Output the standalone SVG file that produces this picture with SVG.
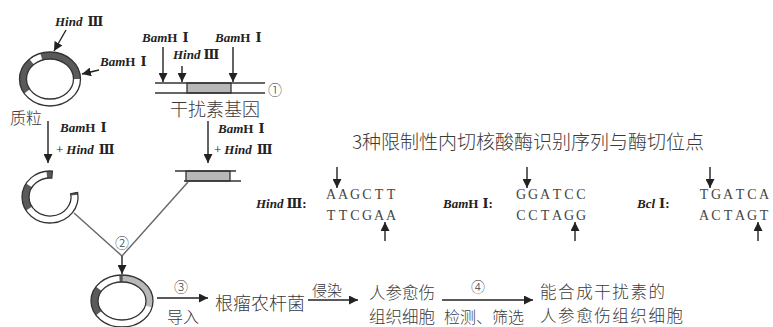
<svg xmlns="http://www.w3.org/2000/svg" width="773" height="327" viewBox="0 0 773 327">
  <defs>
    <marker id="ah" viewBox="0 0 10 10" refX="10" refY="5" markerWidth="9" markerHeight="9" markerUnits="userSpaceOnUse" orient="auto">
      <path d="M0,0 L10,5 L0,10 z" fill="#222"/>
    </marker>
    <style>
      .ol { fill: none; stroke: #333; stroke-width: 1.3; }
      .dk { fill: none; stroke: #5a5a5a; stroke-width: 7; }
      .lt { fill: none; stroke: #b8b8b8; stroke-width: 7; }
      .arr { stroke: #222; stroke-width: 1.4; fill: none; marker-end: url(#ah); }
      .vl { stroke: #666; stroke-width: 1.4; fill: none; }
      .zh { font-family: "Noto Sans CJK SC", "Noto Sans", sans-serif; font-weight: 300; fill: #3a3a3a; }
      .en { font-family: "Liberation Serif", "DejaVu Serif", serif; font-weight: bold; font-size: 13px; fill: #222; }
      .it { font-style: italic; }
      .pl { font-weight: normal; }
      .seq { font-family: "Liberation Serif", "DejaVu Serif", serif; font-size: 14px; fill: #444; text-anchor: middle; }
      .num { font-family: "Noto Sans CJK SC", "DejaVu Sans", sans-serif; font-weight: 300; font-size: 14px; fill: #444; text-anchor: middle; }
    </style>
  </defs>

  <rect width="773" height="327" fill="#fff"/>

  <!-- original plasmid -->
  <g id="plasmid">
    <ellipse class="dk" cx="50" cy="79" rx="27" ry="23.5" pathLength="360" stroke-dasharray="0 150 75 25 110"/>
    <ellipse class="ol" cx="50" cy="79" rx="30.5" ry="27"/>
    <ellipse class="ol" cx="50" cy="79" rx="23.5" ry="20"/>
    <text class="zh" x="10" y="124" font-size="16">质粒</text>
  </g>

  <!-- interferon gene on the donor DNA -->
  <g id="gene">
    <rect x="187" y="83" width="44" height="10" fill="#b8b8b8" stroke="#333" stroke-width="1.3"/>
    <line class="ol" x1="155" y1="83" x2="265" y2="83"/>
    <line class="ol" x1="155" y1="93" x2="265" y2="93"/>
    <text class="num" x="275" y="95">①</text>
    <text class="zh" x="215" y="116" font-size="18" text-anchor="middle">干扰素基因</text>
  </g>

  <!-- cut plasmid -->
  <g id="cut-plasmid">
    <ellipse class="dk" cx="50" cy="197" rx="24.5" ry="22.5" pathLength="360" stroke-dasharray="0 150 60 150"/>
    <ellipse class="dk" cx="50" cy="197" rx="24.5" ry="22.5" pathLength="360" stroke-dasharray="0 262 13 85"/>
    <ellipse class="dk" cx="50" cy="197" rx="24.5" ry="22.5" pathLength="360" stroke-dasharray="0 349 6 5"/>
    <path class="ol" d="M77.6 192.5 A28 26 0 1 1 52.4 171.1 L51.8 178.1 A21 19 0 1 0 70.7 193.7 Z"/>
  </g>

  <!-- cut gene fragment with sticky ends -->
  <g id="fragment">
    <rect x="186" y="171" width="44" height="10" fill="#b8b8b8" stroke="#333" stroke-width="1.3"/>
    <line class="ol" x1="175" y1="171" x2="236" y2="171"/>
    <line class="ol" x1="184" y1="181" x2="241" y2="181"/>
  </g>

  <!-- recombinant plasmid -->
  <g id="recombinant">
    <ellipse class="lt" cx="122" cy="301" rx="27.5" ry="22.5" pathLength="360" stroke-dasharray="13 259 88"/>
    <ellipse class="dk" cx="122" cy="301" rx="27.5" ry="22.5" pathLength="360" stroke-dasharray="0 150 60 150"/>
    <ellipse class="dk" cx="122" cy="301" rx="27.5" ry="22.5" pathLength="360" stroke-dasharray="0 264 8 88"/>
    <ellipse class="ol" cx="122" cy="301" rx="31" ry="26"/>
    <ellipse class="ol" cx="122" cy="301" rx="24" ry="19"/>
  </g>

  <g id="agrobacterium">
    <text class="zh" x="260" y="310" font-size="18" text-anchor="middle">根瘤农杆菌</text>
  </g>
  <g id="callus">
    <text class="zh" x="402" y="299" font-size="16.5" text-anchor="middle">人参愈伤</text>
    <text class="zh" x="402" y="323" font-size="16.5" text-anchor="middle">组织细胞</text>
  </g>
  <g id="result">
    <text class="zh" x="540" y="298" font-size="16.5" textLength="125">能合成干扰素的</text>
    <text class="zh" x="540" y="322" font-size="16.5" textLength="143">人参愈伤组织细胞</text>
  </g>

  <!-- enzyme recognition sequences -->
  <g id="enzyme-table">
    <text class="zh" x="528" y="149" font-size="19" text-anchor="middle">3种限制性内切核酸酶识别序列与酶切位点</text>

    <g id="hind3">
      <text class="en" x="256" y="208"><tspan class="it">Hind</tspan><tspan dx="3">Ⅲ:</tspan></text>
      <text class="seq" x="331 343 355 367 379 391" y="199">AAGCTT</text>
      <text class="seq" x="331 343 355 367 379 391" y="220">TTCGAA</text>
    </g>
    <g id="bamh1">
      <text class="en" x="443" y="208"><tspan class="it">Bam</tspan>H<tspan dx="4">Ⅰ:</tspan></text>
      <text class="seq" x="521 533 545 557 569 581" y="199">GGATCC</text>
      <text class="seq" x="521 533 545 557 569 581" y="220">CCTAGG</text>
    </g>
    <g id="bcl1">
      <text class="en" x="637" y="208"><tspan class="it">Bcl</tspan><tspan dx="4">Ⅰ:</tspan></text>
      <text class="seq" x="704 716 728 740 752 764" y="199">TGATCA</text>
      <text class="seq" x="704 716 728 740 752 764" y="220">ACTAGT</text>
    </g>
  </g>

  <!-- connectors -->
  <g id="connectors">
    <!-- cut sites on the plasmid -->
    <line class="arr" x1="66" y1="30" x2="54" y2="51"/>
    <line class="arr" x1="99" y1="70" x2="82" y2="74"/>
    <!-- cut sites on the donor DNA -->
    <line class="arr" x1="163" y1="47" x2="163" y2="82"/>
    <line class="arr" x1="182" y1="66" x2="182" y2="82"/>
    <line class="arr" x1="233" y1="47" x2="233" y2="82"/>
    <!-- digestion -->
    <line class="arr" x1="48" y1="121" x2="48" y2="163"/>
    <line class="arr" x1="208" y1="121" x2="208" y2="163"/>
    <!-- ligation -->
    <line class="vl" x1="74" y1="213" x2="122" y2="256"/>
    <line class="vl" x1="188" y1="182" x2="122" y2="256"/>
    <line class="arr" x1="122" y1="256" x2="122" y2="274"/>
    <!-- transfer steps -->
    <line class="arr" x1="157" y1="298" x2="208" y2="298"/>
    <line class="arr" x1="308" y1="300" x2="358" y2="300"/>
    <line class="arr" x1="442" y1="300" x2="533" y2="300"/>
    <!-- cut positions in the sequences -->
    <line class="arr" x1="337" y1="167" x2="337" y2="188"/>
    <line class="arr" x1="385" y1="241" x2="385" y2="222"/>
    <line class="arr" x1="527" y1="167" x2="527" y2="188"/>
    <line class="arr" x1="575" y1="241" x2="575" y2="222"/>
    <line class="arr" x1="710" y1="167" x2="710" y2="188"/>
    <line class="arr" x1="758" y1="241" x2="758" y2="222"/>
  </g>

  <!-- connector labels -->
  <g id="labels">
    <text class="en" x="55" y="26"><tspan class="it">Hind</tspan><tspan dx="5">Ⅲ</tspan></text>
    <text class="en" x="100" y="66"><tspan class="it">Bam</tspan>H<tspan dx="5">Ⅰ</tspan></text>
    <text class="en" x="142" y="42"><tspan class="it">Bam</tspan>H<tspan dx="5">Ⅰ</tspan></text>
    <text class="en" x="173" y="59"><tspan class="it">Hind</tspan><tspan dx="3">Ⅲ</tspan></text>
    <text class="en" x="215" y="42"><tspan class="it">Bam</tspan>H<tspan dx="5">Ⅰ</tspan></text>
    <text class="en" x="60" y="132"><tspan class="it">Bam</tspan>H<tspan dx="5">Ⅰ</tspan></text>
    <text class="en" x="56" y="154"><tspan class="pl">+</tspan><tspan class="it" dx="3">Hind</tspan><tspan dx="5">Ⅲ</tspan></text>
    <text class="en" x="218" y="133"><tspan class="it">Bam</tspan>H<tspan dx="5">Ⅰ</tspan></text>
    <text class="en" x="214" y="154"><tspan class="pl">+</tspan><tspan class="it" dx="3">Hind</tspan><tspan dx="5">Ⅲ</tspan></text>
    <text class="num" x="122" y="248">②</text>
    <text class="num" x="181" y="292">③</text>
    <text class="zh" x="183" y="323" font-size="16" text-anchor="middle">导入</text>
    <text class="zh" x="327" y="296" font-size="15" text-anchor="middle">侵染</text>
    <text class="num" x="478" y="292">④</text>
    <text class="zh" x="484" y="323" font-size="16" text-anchor="middle">检测、筛选</text>
  </g>
</svg>
